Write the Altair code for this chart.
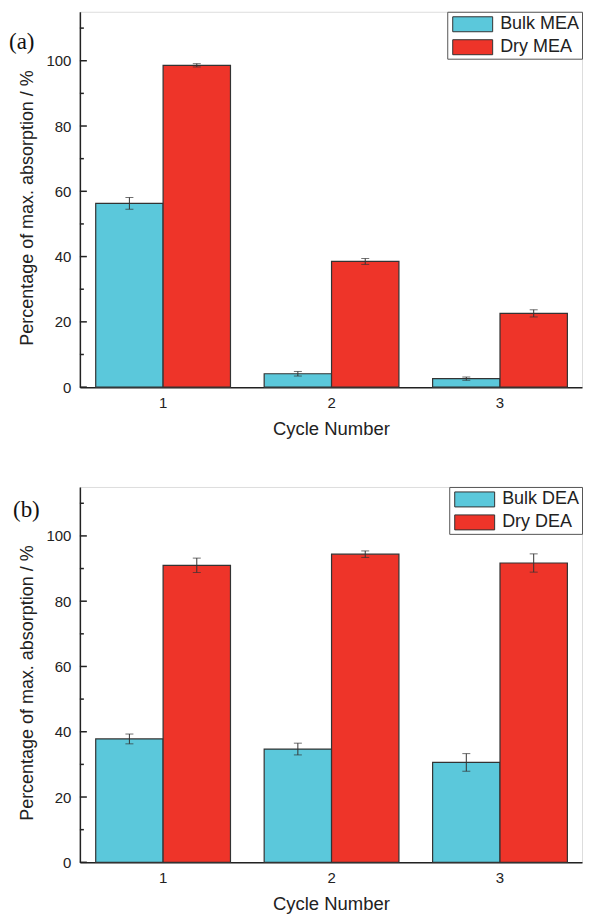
import altair as alt
import pandas as pd

cycles = ["1", "2", "3"]

mea_series = ["Bulk MEA", "Dry MEA"]
mea_bulk = [56.3, 4.1, 2.6]
mea_bulk_err = [1.8, 0.7, 0.5]
mea_dry = [98.6, 38.5, 22.6]
mea_dry_err = [0.5, 0.9, 1.1]

dea_series = ["Bulk DEA", "Dry DEA"]
dea_bulk = [37.8, 34.7, 30.6]
dea_bulk_err = [1.5, 1.8, 2.7]
dea_dry = [91.0, 94.4, 91.7]
dea_dry_err = [2.2, 1.0, 2.8]

major_ticks = [0, 20, 40, 60, 80, 100]
minor_ticks = [10, 30, 50, 70, 90, 110]

COLORS = ["#5BC8DB", "#EE3429"]
FONT = "Liberation Sans"
YTITLE = "Percentage of max. absorption / %"


def build_df(series, bulk, bulk_err, dry, dry_err):
    rows = []
    for i, c in enumerate(cycles):
        for s, v, e in ((series[0], bulk[i], bulk_err[i]), (series[1], dry[i], dry_err[i])):
            rows.append({"cycle": c, "series": s, "value": v, "lo": v - e, "hi": v + e})
    return pd.DataFrame(rows)


def panel(df, series, tag, tag_x, tag_y):
    xs = alt.X("cycle:N", title="Cycle Number",
               scale=alt.Scale(paddingInner=0.2, paddingOuter=0.0904, align=0.52),
               axis=alt.Axis(labelAngle=0, ticks=False, labelFontSize=15, titleFontSize=18.5,
                             labelPadding=8, titlePadding=9, titleFontWeight="normal",
                             labelFont=FONT, titleFont=FONT, labelColor="#222", titleColor="#222",
                             domainColor="#222", domainWidth=1.5))
    yscale = alt.Scale(domain=[0, 115], nice=False)
    xoff = alt.XOffset("series:N", scale=alt.Scale(domain=series, paddingInner=0, paddingOuter=0))
    color = alt.Color("series:N", title=None,
                      scale=alt.Scale(domain=series, range=COLORS),
                      legend=alt.Legend(orient="top-right", offset=0, padding=2,
                                        strokeColor="#555", fillColor="white",
                                        symbolType="M-2,-0.75H2V0.75H-2Z", symbolSize=400,
                                        symbolOffset=13,
                                        symbolStrokeColor="#333", symbolStrokeWidth=1,
                                        symbolOpacity=1, labelFontSize=18, labelFont=FONT,
                                        labelColor="#222", rowPadding=3, labelOffset=17))
    bars = alt.Chart(df).mark_bar(stroke="#333", strokeWidth=1.2, opacity=1).encode(
        x=xs,
        xOffset=xoff,
        y=alt.Y("value:Q", scale=yscale, title=YTITLE,
                axis=alt.Axis(values=major_ticks, ticks=False, grid=False, labelFontSize=15,
                              titleFontSize=18, labelPadding=9, titlePadding=9, titleY=196,
                              titleFontWeight="normal", labelFont=FONT, titleFont=FONT,
                              labelColor="#222", titleColor="#222",
                              domainColor="#222", domainWidth=1.5)),
        color=color,
    )
    err = alt.Chart(df).mark_rule(color="#333", strokeWidth=1).encode(
        x="cycle:N", xOffset=xoff, y="lo:Q", y2="hi:Q")
    cap_lo = alt.Chart(df).mark_tick(color="#333", thickness=1, size=8, orient="horizontal").encode(
        x="cycle:N", xOffset=xoff, y="lo:Q")
    cap_hi = alt.Chart(df).mark_tick(color="#333", thickness=1, size=8, orient="horizontal").encode(
        x="cycle:N", xOffset=xoff, y="hi:Q")
    tmaj = alt.Chart(pd.DataFrame({"t": major_ticks})).mark_rule(color="#222", strokeWidth=1.5).encode(
        y=alt.Y("t:Q"), x=alt.value(0), x2=alt.value(7))
    tmin = alt.Chart(pd.DataFrame({"t": minor_ticks})).mark_rule(color="#222", strokeWidth=1.5).encode(
        y=alt.Y("t:Q"), x=alt.value(0), x2=alt.value(4))
    label = alt.Chart(pd.DataFrame({"t": [tag]})).mark_text(
        align="left", baseline="middle", font="Liberation Serif", fontSize=23, color="#111"
    ).encode(text="t:N", x=alt.value(tag_x), y=alt.value(tag_y))
    return alt.layer(bars, err, cap_lo, cap_hi, tmaj, tmin, label).properties(width=503, height=376)


df_a = build_df(mea_series, mea_bulk, mea_bulk_err, mea_dry, mea_dry_err)
df_b = build_df(dea_series, dea_bulk, dea_bulk_err, dea_dry, dea_dry_err)

pa = panel(df_a, mea_series, "(a)", -71, 30)
pb = panel(df_b, dea_series, "(b)", -67, 23)

chart = alt.vconcat(pa, pb, spacing=48).resolve_scale(
    color="independent", xOffset="independent"
).properties(
    padding={"left": 0, "top": 2, "right": 0, "bottom": 0}
).configure_view(stroke="#222", strokeWidth=1.5).configure(background="white")

chart.save("out.html", embed_options={"renderer": "svg", "actions": False})
